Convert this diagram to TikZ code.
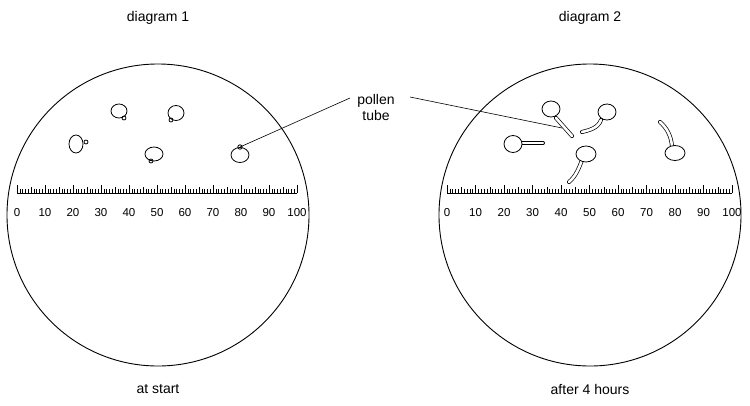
\documentclass[tikz,border=0pt]{standalone}
\usepackage{fontspec}
\setmainfont{Liberation Sans}
\begin{document}
\begin{tikzpicture}[x=1pt,y=-1pt,line width=0.9pt,
  lbl/.style={font=\fontsize{14}{16}\selectfont,inner sep=0},
  num/.style={font=\fontsize{11.5}{13}\selectfont,inner sep=0},
  grain/.style={line width=0.8pt},
  tube/.style={double,double distance=2.6pt,line width=0.7pt,line cap=round}]
\useasboundingbox (0,0) rectangle (750,405);
\node[lbl] (t1) at (158,18) {diagram 1};
\node[lbl] (t2) at (590,18) {diagram 2};
\node[lbl] (b1) at (158,389) {at start};
\node[lbl] (b2) at (590,389) {after 4 hours};
\draw (158,215) circle (151);
\draw (590,215) circle (151);
% rulers
\foreach \xs/\len in {17/280,447/285}{
  \draw[line width=0.6pt] (\xs,193) -- (\xs+\len,193);
  \foreach \i in {0,...,100}{
    \pgfmathsetmacro{\xx}{\xs+\i/100*\len}
    \pgfmathsetmacro{\h}{mod(\i,10)==0 ? 8 : (mod(\i,5)==0 ? 6 : 4)}
    \draw[line width=0.45pt] (\xx,193) -- (\xx,193-\h);
  }
  \foreach \i in {0,10,...,100}{
    \pgfmathsetmacro{\xn}{\xs+\i/100*\len}
    \node[num] at (\xn,213) {\i};
  }
}
% diagram 1 grains
\draw[grain] (119,111) ellipse (8 and 7); \draw[grain] (124,118) circle (2);
\draw[grain] (176,113) ellipse (8 and 7.5); \draw[grain] (171,120) circle (2);
\draw[grain] (76,144) ellipse (7 and 9); \draw[grain] (86,142) circle (2);
\draw[grain] (154,154) ellipse (9 and 7); \draw[grain] (151,161) circle (2);
\draw[grain] (240,155) ellipse (9 and 7.5); \coordinate (bud) at (240,147); \draw[grain] (bud) circle (2.2);
% diagram 2 grains
\draw[tube] (556,118) -- (572,136);
\draw[grain,fill=white] (551,109) ellipse (9 and 8);
\draw[tube] (601,120) .. controls (598,128) and (590,130) .. (582,132);
\draw[grain,fill=white] (607,112) ellipse (9 and 8);
\draw[tube] (519,143) -- (543,143);
\draw[grain,fill=white] (513,144) ellipse (9 and 8.5);
\draw[tube] (582,160) .. controls (579,168) and (576,176) .. (569,182);
\draw[grain,fill=white] (586,154) ellipse (10 and 8);
\draw[tube] (672,146) .. controls (671,136) and (667,128) .. (660,122);
\draw[grain,fill=white] (675,153) ellipse (10 and 7.5);
% label
\node[lbl,align=center] (pt) at (376,107) {pollen\\tube};
\coordinate (la) at (350,98);
\coordinate (lb) at (410,97);
\coordinate (tip2) at (562,128);
\draw[line width=0.6pt] (bud) -- (la);
\draw[line width=0.6pt] (lb) -- (tip2);
\end{tikzpicture}
\end{document}
